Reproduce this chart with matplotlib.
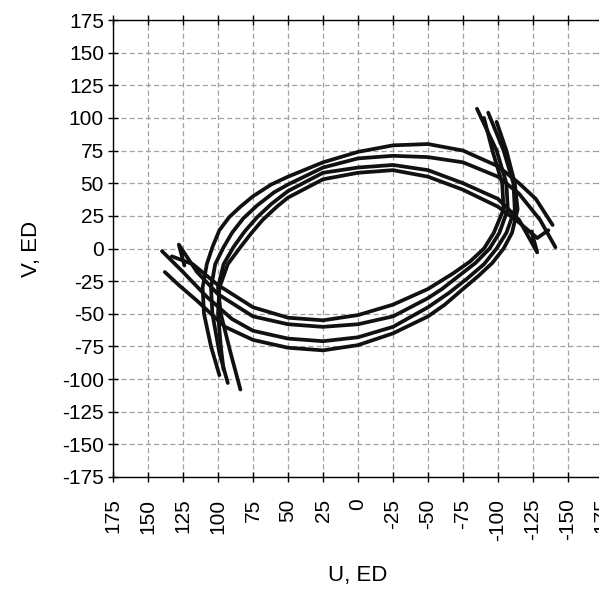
import matplotlib
matplotlib.use("Agg")
import matplotlib.pyplot as plt

plt.rcParams['font.family'] = ['Liberation Sans', 'DejaVu Sans']
plt.rcParams['axes.unicode_minus'] = False

# upper arcs: start at the lower-left tips, run over the top, end at the right tips
a1_u = [99, 105, 110, 111, 108, 104, 99, 92, 84, 75, 62, 50, 25, 0, -25, -50, -75, -100, -115, -127, -139]
a1_v = [-97, -75, -50, -30, -12, 1, 14, 24, 32, 40, 49, 55, 66, 74, 79, 80, 75, 63, 50, 38, 18]
a2_u = [93, 99, 104, 105, 102, 96, 90, 82, 72, 60, 50, 25, 0, -25, -50, -75, -100, -115, -130, -141]
a2_v = [-103, -80, -50, -30, -12, 1, 12, 23, 33, 43, 49, 62, 69, 71, 70, 66, 55, 42, 22, 1]
a3_u = [84, 91, 98, 100, 96, 89, 81, 72, 62, 50, 25, 0, -25, -50, -75, -100, -115, -128, -124]
a3_v = [-108, -80, -50, -30, -12, 1, 13, 24, 34, 44, 58, 62, 64, 60, 50, 38, 22, -3, 13]
a4_u = [96, 98, 100, 99, 93, 84, 76, 68, 58, 50, 25, 0, -25, -50, -75, -100, -115, -128, -136]
a4_v = [-93, -75, -50, -30, -12, 1, 12, 22, 32, 39, 53, 58, 60, 55, 45, 32, 20, 8, 14]

# lower arcs: start at the upper-right tips, run under the bottom, end at the left tips
b1_u = [-99, -106, -112, -114, -110, -104, -96, -86, -75, -62, -50, -25, 0, 25, 50, 75, 95, 115, 128, 138]
b1_v = [97, 75, 50, 30, 12, 0, -11, -21, -31, -43, -52, -65, -74, -78, -76, -70, -60, -40, -28, -18]
b2_u = [-93, -104, -111, -112, -106, -99, -90, -78, -65, -50, -25, 0, 25, 50, 75, 90, 108, 125, 140]
b2_v = [104, 75, 50, 30, 12, 0, -12, -23, -34, -45, -60, -68, -71, -69, -63, -54, -37, -18, -2]
b3_u = [-85, -99, -106, -107, -101, -94, -84, -72, -60, -50, -25, 0, 25, 50, 75, 100, 115, 128, 124]
b3_v = [107, 75, 50, 30, 12, 0, -11, -21, -31, -38, -52, -58, -60, -58, -52, -35, -18, 3, -13]
b4_u = [-90, -96, -103, -104, -97, -90, -80, -68, -56, -50, -25, 0, 25, 50, 75, 100, 118, 133]
b4_v = [100, 75, 50, 30, 12, 0, -10, -19, -27, -31, -43, -51, -55, -53, -45, -28, -12, -6]

curves = [(a1_u, a1_v), (a2_u, a2_v), (a3_u, a3_v), (a4_u, a4_v),
          (b1_u, b1_v), (b2_u, b2_v), (b3_u, b3_v), (b4_u, b4_v)]

ticks = [175, 150, 125, 100, 75, 50, 25, 0, -25, -50, -75, -100, -125, -150, -175]
tick_labels = [str(t) for t in ticks]

fig = plt.figure(figsize=(5.99, 5.89), dpi=100)
ax = fig.add_axes([113 / 599, 112 / 589, 490 / 599, 457 / 589])

for u, v in curves:
    ax.plot(u, v, color='#111111', lw=2.7, solid_capstyle='round', solid_joinstyle='round')

ax.set_xlim(175, -175)
ax.set_ylim(-175, 175)
ax.set_xticks(ticks)
ax.set_xticklabels(tick_labels, rotation=90)
ax.set_yticks(ticks)
ax.set_yticklabels(tick_labels)

ax.grid(True, color='#a0a0a0', linestyle=(0, (4, 2.5)), linewidth=0.9)
ax.tick_params(direction='inout', length=7, width=1, top=True, right=True,
               labelsize=15, colors='black')
ax.tick_params(axis='x', pad=12)
ax.tick_params(axis='y', pad=3)
for s in ax.spines.values():
    s.set_linewidth(1.0)

ax.set_xlabel('U, ED', fontsize=16)
ax.set_ylabel('V, ED', fontsize=16, va='center')
ax.xaxis.set_label_coords(0.5, -0.193)
ax.yaxis.set_label_coords(-0.167, 0.5)

fig.savefig('out.png', dpi=100)
